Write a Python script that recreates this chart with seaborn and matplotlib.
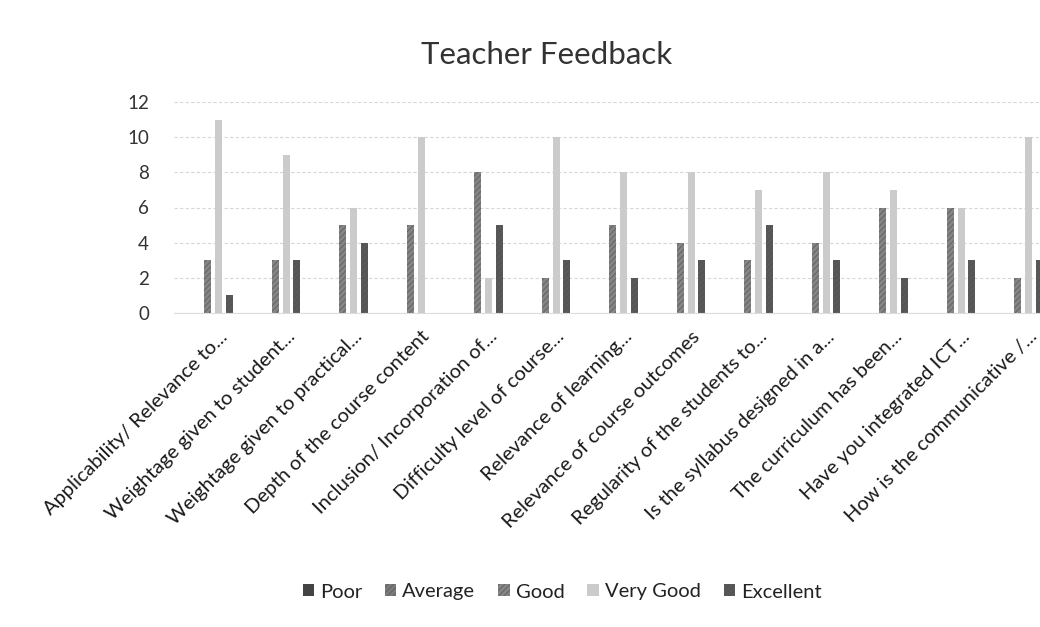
import matplotlib
matplotlib.use("Agg")
import matplotlib.pyplot as plt
import matplotlib.transforms as mtransforms
import seaborn as sns
import pandas as pd

# Survey questions (truncated as printed on the axis)
categories = [
    "Applicability/ Relevance to...",
    "Weightage given to student...",
    "Weightage given to practical...",
    "Depth of the course content",
    "Inclusion/ Incorporation of...",
    "Difficulty level of course...",
    "Relevance of learning...",
    "Relevance of course outcomes",
    "Regularity of the students to...",
    "Is the syllabus designed in a...",
    "The curriculum has been...",
    "Have you integrated ICT...",
    "How is the communicative /...",
]

# Number of teachers choosing each rating
poor      = [0, 0, 0, 0, 0, 0, 0, 0, 0, 0, 0, 0, 0]
average   = [0, 0, 0, 0, 0, 0, 0, 0, 0, 0, 0, 0, 0]
good      = [3, 3, 5, 5, 8, 2, 5, 4, 3, 4, 6, 6, 2]
very_good = [11, 9, 6, 10, 2, 10, 8, 8, 7, 8, 7, 6, 10]
excellent = [1, 3, 4, 0, 5, 3, 2, 3, 5, 3, 2, 3, 3]

ratings = ["Poor", "Average", "Good", "Very Good", "Excellent"]
y_ticks = [0, 2, 4, 6, 8, 10, 12]

df = pd.DataFrame({
    "Question": categories,
    "Poor": poor,
    "Average": average,
    "Good": good,
    "Very Good": very_good,
    "Excellent": excellent,
})
long_df = df.melt(id_vars="Question", var_name="Rating", value_name="Count")

palette = {
    "Poor": "#444444",
    "Average": "#7a7a7a",
    "Good": "#858585",
    "Very Good": "#cbcbcb",
    "Excellent": "#555555",
}
hatches = {"Poor": "", "Average": "//////", "Good": "//////",
           "Very Good": "", "Excellent": "//////"}

sns.set_theme(style="white")
plt.rcParams["font.family"] = ["Lato", "DejaVu Sans"]
plt.rcParams["hatch.color"] = "#5e5e5e"
plt.rcParams["hatch.linewidth"] = 0.6

fig = plt.figure(figsize=(10.4, 6.27), dpi=100)
fig.patch.set_facecolor("white")
# Plot area runs past the right edge of the page, so the last group is cut off
ax = fig.add_axes([174 / 1040, (627 - 313) / 627, 877.5 / 1040, 211 / 627])

sns.barplot(data=long_df, x="Question", y="Count", hue="Rating",
            hue_order=ratings, palette=palette, width=0.8, gap=0.35,
            linewidth=0, ax=ax, legend=False)

for cont, name in zip(ax.containers, ratings):
    for bar in cont:
        bar.set_hatch(hatches[name])
        bar.set_edgecolor("#5e5e5e" if hatches[name] else palette[name])
        bar.set_linewidth(0)

ax.set_xlim(-0.5, len(categories) - 0.5)
ax.set_ylim(0, 12)
ax.set_yticks(y_ticks)
ax.set_yticklabels([str(v) for v in y_ticks], fontsize=13.5, color="#333333")
ax.tick_params(axis="y", length=0, pad=18)
ax.tick_params(axis="x", length=0, pad=0)

ax.yaxis.grid(True, color="#ddd4d4", linewidth=0.8, linestyle=(0, (3, 2)))
ax.set_axisbelow(True)
for side in ["top", "right", "left"]:
    ax.spines[side].set_visible(False)
ax.spines["bottom"].set_color("#dddddd")
ax.spines["bottom"].set_linewidth(0.8)

ax.set_xlabel("")
ax.set_ylabel("")

offset = mtransforms.ScaledTranslation(12 / 72, -15 / 72, fig.dpi_scale_trans)
ax.set_xticks(range(len(categories)))
ax.set_xticklabels(categories, rotation=45, ha="right", va="center",
                   rotation_mode="anchor", fontsize=14.5, color="#1a1a1a")
for lab in ax.get_xticklabels():
    lab.set_transform(lab.get_transform() + offset)

fig.text(547 / 1040, 1 - 55 / 627, "Teacher Feedback", ha="center",
         va="center", fontsize=22.5, color="#333333")

handles = [plt.Rectangle((0, 0), 1, 1, facecolor=palette[r],
                         hatch=hatches[r], edgecolor="#5e5e5e", linewidth=0)
           for r in ratings]
fig.legend(handles, ratings, loc="center", bbox_to_anchor=(562 / 1040, 1 - 592 / 627),
           ncol=5, frameon=False, fontsize=14.5, handlelength=0.55,
           handleheight=0.55, handletextpad=0.3, columnspacing=1.15,
           labelcolor="#222222")

fig.savefig("out.png", dpi=100)
